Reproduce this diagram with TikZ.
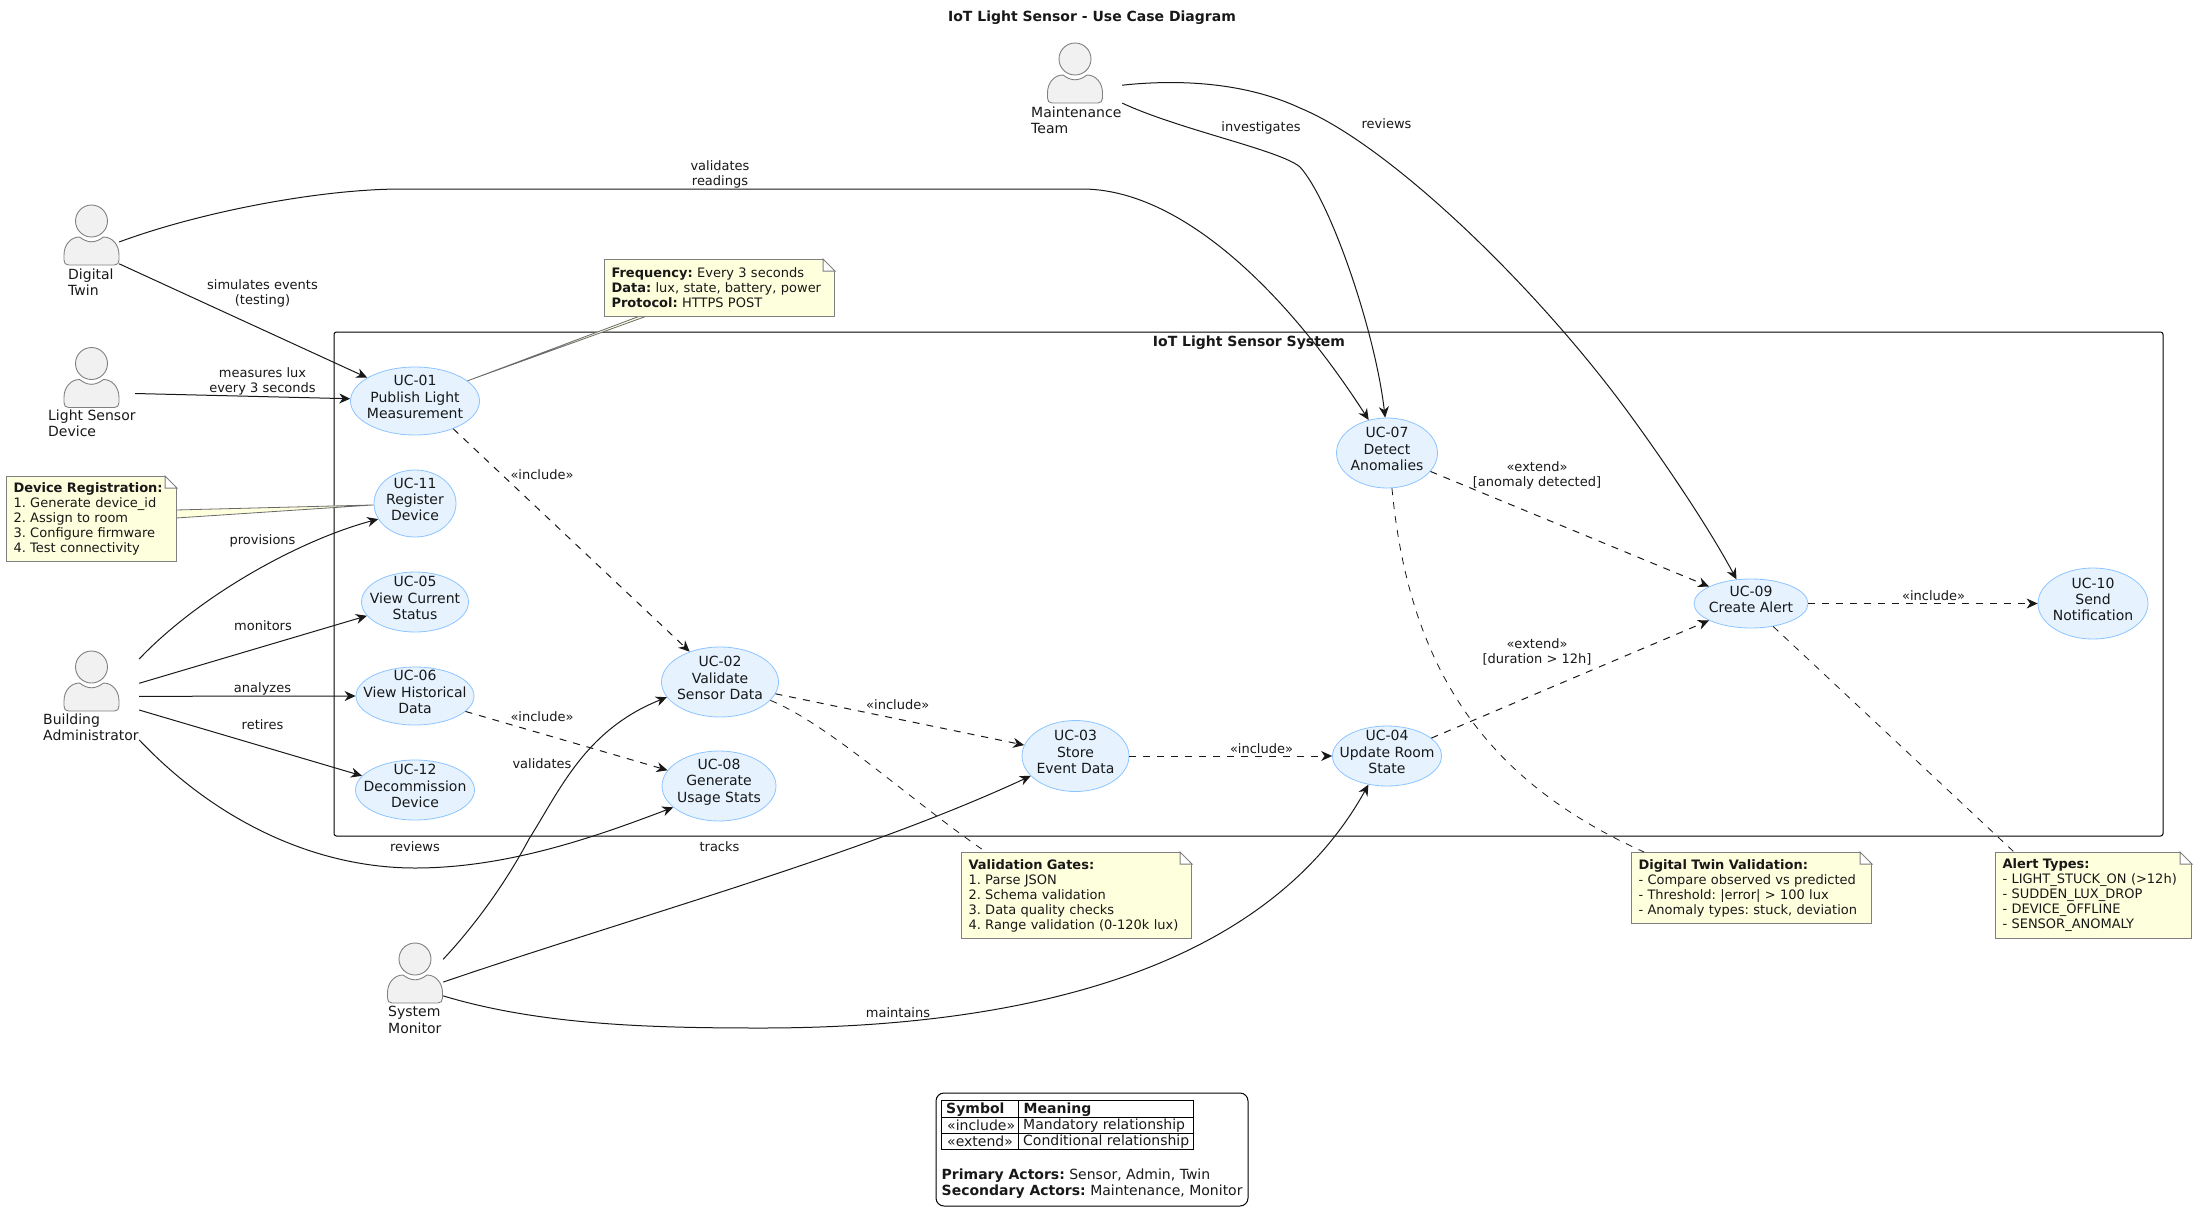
\documentclass[tikz,border=0pt]{standalone}
\usepackage{fontspec}
\setmainfont{DejaVu Sans}
\usetikzlibrary{arrows.meta,shapes.geometric}
\AtBeginDocument{\frenchspacing}
\definecolor{ucfill}{HTML}{E6F3FF}
\definecolor{ucline}{HTML}{8CC4FF}
\definecolor{notefill}{HTML}{FEFFDD}
\definecolor{noteline}{HTML}{808080}
\definecolor{ink}{HTML}{181818}
\definecolor{actorfill}{HTML}{F1F1F1}
\tikzset{
  ucase/.style n args={2}{shape=ellipse,draw=ucline,fill=ucfill,line width=.8pt,inner sep=0pt,minimum width=#1pt,minimum height=#2pt},
  uctext/.style={align=center,inner sep=0pt,text=ink,yshift=4pt,font=\fontsize{14}{16.3}\selectfont},
  actorbox/.style n args={2}{rectangle,inner sep=0pt,minimum width=#1pt,minimum height=#2pt},
  actorlabel/.style={anchor=west,align=left,inner sep=0pt,text=ink,font=\fontsize{14}{16.3}\selectfont},
  elabel/.style={align=center,inner sep=0pt,text=ink,font=\fontsize{13}{15}\selectfont},
  assocline/.style={draw=ink,line width=1pt,-{Stealth[length=11pt,width=10pt,inset=3.5pt]}},
  dashline/.style={assocline,dash pattern=on 7pt off 7pt},
  notelink/.style={draw=ink,line width=.8pt,dash pattern=on 7pt off 7pt},
  notebox/.style n args={2}{rectangle,anchor=north west,draw=noteline,fill=notefill,line width=1pt,align=left,inner xsep=7pt,inner ysep=0pt,minimum width=#1pt,minimum height=#2pt,text width=#1pt-14pt,text=ink,font=\fontsize{13}{15}\selectfont},
  wedge/.style={draw=ink!65,fill=notefill,line width=.8pt},
  foldtri/.style={draw=noteline,fill=white,line width=1pt},
  legtext/.style={anchor=west,inner sep=0pt,text=ink,font=\fontsize{14}{16}\selectfont},
  actorfig/.pic={
    \path[draw=noteline,fill=actorfill,line width=.9pt]
      (-27.5,39) -- (-27.5,34) .. controls (-27.5,24) and (-21,16) .. (-12,16)
      .. controls (-8,19) and (-4,20.8) .. (0,20.8)
      .. controls (4,20.8) and (8,19) .. (12,16)
      .. controls (21,16) and (27.5,24) .. (27.5,34) -- (27.5,39)
      .. controls (27.5,42) and (26,44) .. (23,44) -- (-23,44)
      .. controls (-26,44) and (-27.5,42) .. (-27.5,39) -- cycle;
    \path[draw=noteline,fill=actorfill,line width=.9pt] (0,0) circle[radius=16pt];
  }
}
\newcommand{\notefold}[1]{%
  \fill[white] ([xshift=-12pt]#1.north east) ++(0,1pt) rectangle ([xshift=1pt,yshift=-12pt]#1.north east);
  \path[foldtri] ([xshift=-12pt]#1.north east) -- ([xshift=-12pt,yshift=-12pt]#1.north east) -- ([yshift=-12pt]#1.north east) -- cycle;
}
\begin{document}
\begin{tikzpicture}[x=1pt,y=-1pt]
\useasboundingbox (0,0) rectangle (2196,1224);
\node[font=\bfseries\fontsize{14}{16}\selectfont,inner sep=0pt,text=ink] (title) at (1092,18) {IoT Light Sensor - Use Case Diagram};

% system boundary
\node[rectangle,draw=black,line width=1pt,rounded corners=2.5pt,inner sep=0pt,minimum width=1829pt,minimum height=504pt] (sys) at (1248.5,584) {};
\node[font=\bfseries\fontsize{14}{16}\selectfont,inner sep=0pt,text=ink] (systitle) at (1249,343) {IoT Light Sensor System};

% actors
\node[actorbox={55}{93}] (dt) at (91.5,251.5) {};
\node[actorbox={87}{93}] (ls) at (91.5,393.5) {};
\node[actorbox={96}{94}] (ba) at (91,698) {};
\node[actorbox={91}{94}] (mt) at (1076.5,90) {};
\node[actorbox={55}{94}] (sm) at (415.5,990) {};
\pic at (91.5,221) {actorfig};
\pic at (91.5,363.5) {actorfig};
\pic at (91.5,667) {actorfig};
\pic at (1075,59) {actorfig};
\pic at (415,959) {actorfig};
\node[actorlabel] (dtl) at (68,282) {Digital\\Twin};
\node[actorlabel] (lsl) at (48,423.5) {Light Sensor\\Device};
\node[actorlabel] (bal) at (43,727) {Building\\Administrator};
\node[actorlabel] (mtl) at (1031,120) {Maintenance\\Team};
\node[actorlabel] (sml) at (388,1020) {System\\Monitor};

% use cases
\node[ucase={129}{68}] (uc1) at (415,401) {};
\node[ucase={82}{67}] (uc11) at (415,503.5) {};
\node[ucase={107}{60}] (uc5) at (415,602) {};
\node[ucase={118}{58}] (uc6) at (415,696) {};
\node[ucase={119}{60}] (uc12) at (415,790) {};
\node[ucase={117}{70}] (uc2) at (720,682) {};
\node[ucase={114}{70}] (uc8) at (719,786) {};
\node[ucase={107}{71}] (uc3) at (1075.5,756) {};
\node[ucase={109}{60}] (uc4) at (1387,756) {};
\node[ucase={101}{70}] (uc7) at (1387,453) {};
\node[ucase={114}{49}] (uc9) at (1751,603.5) {};
\node[ucase={110}{71}] (uc10) at (2093,603.5) {};
\node[uctext] (uc1t) at (uc1) {UC-01\\Publish Light\\Measurement};
\node[uctext] (uc11t) at (uc11) {UC-11\\Register\\Device};
\node[uctext] (uc5t) at (uc5) {UC-05\\View Current\\Status};
\node[uctext] (uc6t) at (uc6) {UC-06\\View Historical\\Data};
\node[uctext] (uc12t) at (uc12) {UC-12\\Decommission\\Device};
\node[uctext] (uc2t) at (uc2) {UC-02\\Validate\\Sensor Data};
\node[uctext] (uc8t) at (uc8) {UC-08\\Generate\\Usage Stats};
\node[uctext] (uc3t) at (uc3) {UC-03\\Store\\Event Data};
\node[uctext] (uc4t) at (uc4) {UC-04\\Update Room\\State};
\node[uctext] (uc7t) at (uc7) {UC-07\\Detect\\Anomalies};
\node[uctext] (uc9t) at (uc9) {UC-09\\Create Alert};
\node[uctext] (uc10t) at (uc10) {UC-10\\Send\\Notification};

% notes
\path[wedge] (uc1.21) -- (640,316) -- (647,316) -- cycle;
\path[wedge] (uc11.182) -- (176,510) -- (176,518) -- cycle;
\node[notebox={230}{57}] (nfreq) at (604,259) {\textbf{Frequency:} Every 3 seconds\\\textbf{Data:} lux, state, battery, power\\\textbf{Protocol:} HTTPS POST};
\node[notebox={170}{85}] (ndev) at (6,476) {\textbf{Device Registration:}\\1. Generate device\_id\\2. Assign to room\\3. Configure firmware\\4. Test connectivity};
\node[notebox={230}{86}] (nval) at (961,852) {\textbf{Validation Gates:}\\1. Parse JSON\\2. Schema validation\\3. Data quality checks\\4. Range validation (0-120k lux)};
\node[notebox={240}{71}] (ntwin) at (1631,852) {\textbf{Digital Twin Validation:}\\- Compare observed vs predicted\\- Threshold: |error| > 100 lux\\- Anomaly types: stuck, deviation};
\node[notebox={196}{86}] (nalert) at (1995,852) {\textbf{Alert Types:}\\- LIGHT\_STUCK\_ON (>12h)\\- SUDDEN\_LUX\_DROP\\- DEVICE\_OFFLINE\\- SENSOR\_ANOMALY};
\notefold{nfreq}
\notefold{ndev}
\notefold{nval}
\notefold{ntwin}
\notefold{nalert}
\path[notelink] (uc2.-20) .. controls (830,725) and (910,800) .. ([xshift=25pt]nval.north west);
\path[notelink] (uc7.-82) .. controls (1410,680) and (1495,785) .. ([xshift=13pt]ntwin.north west);
\path[notelink] (uc9.-46.9) -- ([xshift=19pt]nalert.north west);

% actor associations
\path[assocline] (dt.19) .. controls (200,212) and (320,189) .. (402,189) -- (1082,189) .. controls (1180,189) and (1285,290) .. (uc7.119);
\path[assocline] (dt.-24) -- (uc1.154.9);
\path[assocline] (ls.east) -- (uc1.178);
\path[assocline] (ba.39.8) .. controls (200,595) and (300,540) .. (uc11.203);
\path[assocline] (ba.17.4) -- (uc5.196.6);
\path[assocline] (ba.2.4) -- (uc6.west);
\path[assocline] (ba.-14) -- (uc12.165.7);
\path[assocline] (ba.-41.2) .. controls (220,825) and (320,868) .. (415,868) .. controls (510,868) and (600,835) .. (uc8.205.3);
\path[assocline] (mt.-16) .. controls (1180,130) and (1280,150) .. (1300,167) .. controls (1330,200) and (1375,330) .. (uc7.93);
\path[assocline] (mt.6.3) .. controls (1170,80) and (1240,80) .. (1300,108) .. controls (1390,145) and (1540,290) .. (1633,419) .. controls (1670,470) and (1710,530) .. (uc9.121.5);
\path[assocline] (sm.48.4) .. controls (480,920) and (510,875) .. (529,839) .. controls (560,790) and (585,730) .. (uc2.196);
\path[assocline] (sm.16.2) .. controls (640,915) and (860,855) .. (uc3.204);
\path[assocline] (sm.-12.3) .. controls (540,1025) and (650,1028) .. (761,1028) .. controls (1000,1028) and (1260,980) .. (uc4.237.6);

% use case relations
\path[dashline] (uc1.-36) -- (uc2.135);
\path[dashline] (uc6.-17.3) -- (uc8.163.8);
\path[dashline] (uc2.-12.5) -- (uc3.168.8);
\path[dashline] (uc3.east) -- (uc4.west);
\path[dashline] (uc4.22.5) -- (uc9.202);
\path[dashline] (uc7.-23.6) -- (uc9.158);
\path[dashline] (uc9.east) -- (uc10.west);

% edge labels
\node[elabel] (l1) at (720,174.5) {validates\\readings};
\node[elabel] (l2) at (262.5,293.5) {simulates events\\(testing)};
\node[elabel] (l3) at (262.5,381.5) {measures lux\\every 3 seconds};
\node[elabel] (l4) at (262.5,541) {provisions};
\node[elabel] (l5) at (263,626) {monitors};
\node[elabel] (l6) at (262.5,689) {analyzes};
\node[elabel] (l7) at (262.5,725) {retires};
\node[elabel] (l8) at (415,847) {reviews};
\node[elabel] (l9) at (542,475) {«include»};
\node[elabel] (l10) at (542,717) {«include»};
\node[elabel] (l11) at (542,764) {validates};
\node[elabel] (l12) at (897.7,705) {«include»};
\node[elabel] (l13) at (1261.5,749) {«include»};
\node[elabel] (l14) at (1537,651.5) {«extend»\\{[}duration > 12h{]}};
\node[elabel] (l15) at (1537,475.5) {«extend»\\{[}anomaly detected{]}};
\node[elabel] (l16) at (1933.6,596) {«include»};
\node[elabel] (l17) at (1261,128) {investigates};
\node[elabel] (l18) at (1386.5,124) {reviews};
\node[elabel] (l19) at (719.5,847) {tracks};
\node[elabel] (l20) at (898,1013) {maintains};

% legend
\node[rectangle,draw=black,line width=1pt,rounded corners=8pt,inner sep=0pt,minimum width=312pt,minimum height=113pt] (legend) at (1092,1149.5) {};
\path[draw=black,line width=1pt] (941.5,1100.5) rectangle (1193.5,1149.5);
\path[draw=black,line width=1pt] (941.5,1117.5) -- (1193.5,1117.5) (941.5,1133.5) -- (1193.5,1133.5) (1018.5,1100.5) -- (1018.5,1149.5);
\node[legtext] (lg1) at (946,1109.5) {\textbf{Symbol}};
\node[legtext] (lg2) at (1023.5,1109.5) {\textbf{Meaning}};
\node[legtext] (lg3) at (947,1125.5) {«include»};
\node[legtext] (lg4) at (1023,1125.5) {Mandatory relationship};
\node[legtext] (lg5) at (947,1141.5) {«extend»};
\node[legtext] (lg6) at (1023,1141.5) {Conditional relationship};
\node[legtext] (lg7) at (941.5,1176) {\textbf{Primary Actors:} Sensor, Admin, Twin};
\node[legtext] (lg8) at (941.5,1192) {\textbf{Secondary Actors:} Maintenance, Monitor};
\end{tikzpicture}
\end{document}
